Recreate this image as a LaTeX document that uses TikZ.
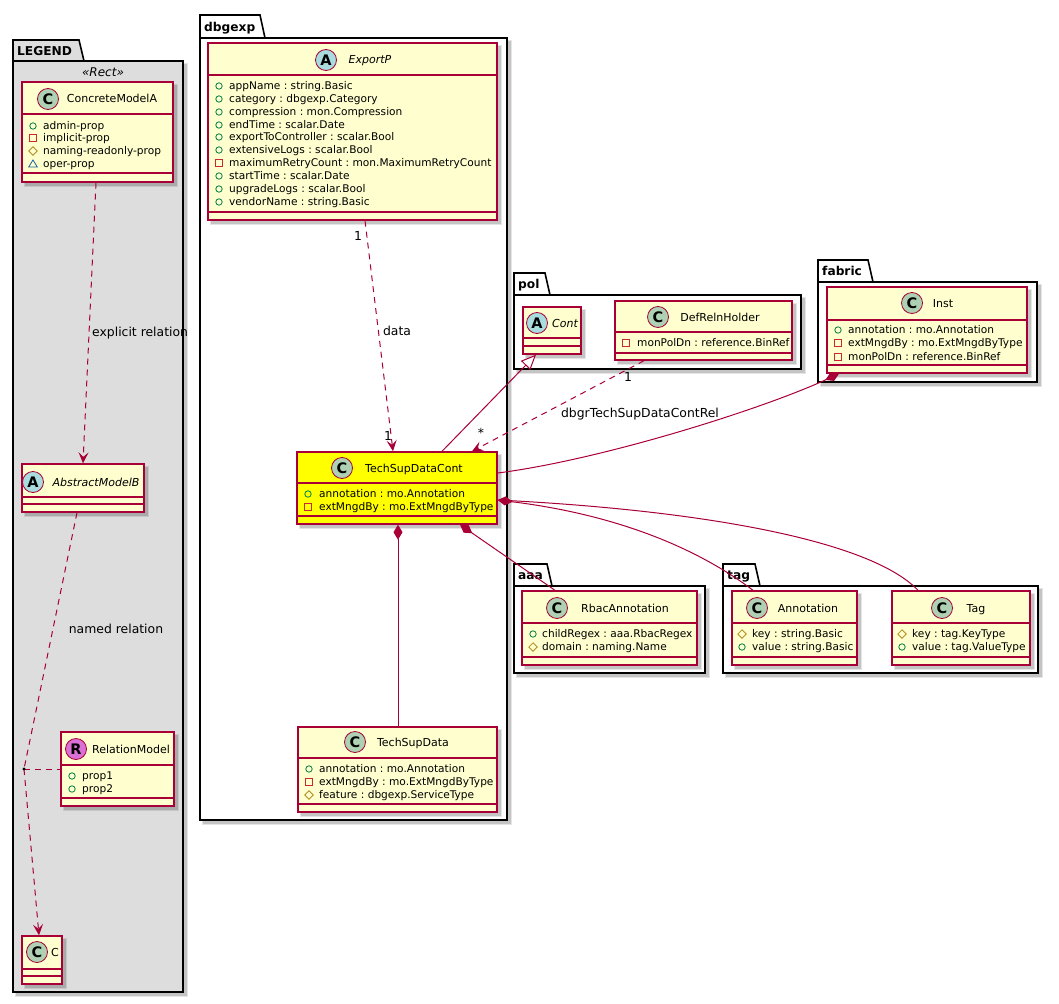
\documentclass[tikz,border=0pt]{standalone}
\usepackage{fontspec}
\setmainfont{DejaVu Sans}
\frenchspacing
\usetikzlibrary{arrows.meta,fit}

\definecolor{umlred}{HTML}{A80036}
\definecolor{clsfill}{HTML}{FEFECE}
\definecolor{yel}{HTML}{FFFF00}
\definecolor{cbadge}{HTML}{ADD1B2}
\definecolor{abadge}{HTML}{A9DCDF}
\definecolor{rbadge}{HTML}{DA70D6}
\definecolor{legendgray}{HTML}{DDDDDD}
\definecolor{pubc}{HTML}{038048}
\definecolor{pric}{HTML}{C82930}
\definecolor{proc}{HTML}{B38D22}
\definecolor{pkgc}{HTML}{1963A0}

\tikzset{
  txt/.style={inner sep=0pt, font=\fontsize{12.4}{15}\selectfont, text height=11pt, text depth=2pt},
  attrf/.style={anchor=west, font=\fontsize{10.6}{13}\selectfont, text height=9.8pt, text depth=2pt},
  namef/.style={font=\fontsize{11}{14}\selectfont, text height=10pt, text depth=2pt},
  namefi/.style={font=\fontsize{11}{14}\selectfont\itshape, text height=10pt, text depth=2pt},
  pkglab/.style={anchor=west, font=\fontsize{12.2}{15}\selectfont\bfseries, text height=10.9pt, text depth=2pt},
  ster/.style={font=\fontsize{12}{15}\selectfont\itshape, text height=10.8pt, text depth=2pt},
  badgest/.style={circle, draw=umlred, line width=0.8pt, minimum size=21pt, inner sep=0pt,
     font=\fontsize{14.5}{15}\selectfont\bfseries, text height=10.6pt, text depth=0pt},
  clsline/.style={draw=umlred, line width=1.4pt},
  pkgline/.style={draw=black, line width=1.6pt},
  conn/.style={draw=umlred, line width=1pt},
  dashedconn/.style={conn, dash pattern=on 6pt off 5pt},
  dep/.style={dashedconn, -{Stealth[length=11pt,width=10pt,inset=4.5pt]}},
  gen/.style={conn, -{Triangle[length=15pt,width=13pt,fill=white]}},
  comp/.style={conn, {Diamond[length=15pt,width=9pt]}-},
  compend/.style={conn, -{Diamond[length=15pt,width=9pt]}},
}

\newcount\tn
\newcommand\tx[3][]{\global\advance\tn by 1\relax\node[txt,#1] (t\the\tn) at (#2) {#3};}
\newcommand\shadowrect[4]{%
  \fill[black,opacity=0.10] (#1+2,#2+2) rectangle (#3+5,#4+5);
  \fill[black,opacity=0.14] (#1+3,#2+3) rectangle (#3+4,#4+4);}
\newcommand\umlclass[8]{%
  \shadowrect{#2}{#3}{#4}{#5}
  \node[clsline, fill=#8, inner sep=0pt, fit={(#2,#3) (#4,#5)}] (#1) {};
  \draw[clsline] (#2,#6) -- (#4,#6) (#2,#7) -- (#4,#7);}
\newcommand\badge[4]{\global\advance\tn by 1\relax\node[badgest, fill=#3] (t\the\tn) at (#1,#2) {#4};}
\newcommand\upkg[8]{%
  \shadowrect{#2}{#5}{#6}{#7}
  \draw[pkgline, fill=#8] (#2,#5) -- (#2,#3) -- (#4,#3) -- (#4+5,#5) -- cycle;
  \node[pkgline, fill=#8, inner sep=0pt, fit={(#2,#5) (#6,#7)}] (#1) {};}
\newcommand\icpub[2]{\draw[pubc, line width=0.8pt] (#1,#2) circle (3.2);}
\newcommand\icpri[2]{\draw[pric, line width=0.9pt] (#1-3.3,#2-3.3) rectangle (#1+3.3,#2+3.3);}
\newcommand\icpro[2]{\draw[proc, line width=0.8pt] (#1,#2-4.2) -- (#1+4.2,#2) -- (#1,#2+4.2) -- (#1-4.2,#2) -- cycle;}
\newcommand\icpkg[2]{\draw[pkgc, line width=0.8pt] (#1,#2-4) -- (#1+4.3,#2+3) -- (#1-4.3,#2+3) -- cycle;}
\newcommand\attr[5]{#3{#1}{#2}\tx[attrf]{#4,#2}{#5}}

\begin{document}
\begin{tikzpicture}[x=1pt,y=-1pt]
\fill[white] (0,0) rectangle (1059,1003);
\useasboundingbox (0,0) rectangle (1059,1003);

% ---------------- packages ----------------
\upkg{legend}{13}{40}{79}{61}{183}{992}{legendgray}
\tx[pkglab]{17,51}{LEGEND}
\tx[ster]{103,72}{«Rect»}

\upkg{dbgexp}{200}{15}{260}{38}{507}{820}{white}
\tx[pkglab]{204,27}{dbgexp}

\upkg{pol}{514}{273}{545}{295}{801}{369}{white}
\tx[pkglab]{518,284}{pol}

\upkg{fabric}{818}{260}{868}{282}{1037}{382}{white}
\tx[pkglab]{822,271}{fabric}

\upkg{aaa}{514}{564}{547}{586}{705}{673}{white}
\tx[pkglab]{518,575}{aaa}

\upkg{tagpkg}{723}{564}{755}{586}{1038}{673}{white}
\tx[pkglab]{727,575}{tag}

% ---------------- legend classes ----------------
\umlclass{cma}{22}{82}{173}{182}{114}{173}{clsfill}
\badge{48}{99}{cbadge}{C}
\tx[namef]{112,99}{ConcreteModelA}
\attr{33}{126}{\icpub}{43}{admin-prop}
\attr{33}{138}{\icpri}{43}{implicit-prop}
\attr{33}{151}{\icpro}{43}{naming-readonly-prop}
\attr{33}{164}{\icpkg}{43}{oper-prop}

\umlclass{amb}{22}{464}{144}{512}{497}{504}{clsfill}
\badge{33}{482}{abadge}{A}
\tx[namefi]{96,482}{AbstractModelB}

\umlclass{rm}{61}{732}{174}{806}{765}{798}{clsfill}
\badge{76}{749}{rbadge}{R}
\tx[namef]{131,749}{RelationModel}
\attr{72}{776}{\icpub}{82}{prop1}
\attr{72}{789}{\icpub}{82}{prop2}

\umlclass{cc}{22}{936}{62}{984}{969}{976}{clsfill}
\badge{37}{952}{cbadge}{C}
\tx[namef]{55,952}{C}

% ---------------- dbgexp ----------------
\umlclass{exportp}{208}{43}{497}{220}{75}{212}{clsfill}
\badge{326}{60}{abadge}{A}
\tx[namefi]{370,60}{ExportP}
\attr{219}{86}{\icpub}{229}{appName : string.Basic}
\attr{219}{99}{\icpub}{229}{category : dbgexp.Category}
\attr{219}{112}{\icpub}{229}{compression : mon.Compression}
\attr{219}{125}{\icpub}{229}{endTime : scalar.Date}
\attr{219}{137}{\icpub}{229}{exportToController : scalar.Bool}
\attr{219}{150}{\icpub}{229}{extensiveLogs : scalar.Bool}
\attr{219}{163}{\icpri}{229}{maximumRetryCount : mon.MaximumRetryCount}
\attr{219}{176}{\icpub}{229}{startTime : scalar.Date}
\attr{219}{189}{\icpub}{229}{upgradeLogs : scalar.Bool}
\attr{219}{202}{\icpub}{229}{vendorName : string.Basic}

\umlclass{tsdc}{297}{452}{497}{524}{483}{516}{yel}
\badge{342}{468}{cbadge}{C}
\tx[namef]{414,468}{TechSupDataCont}
\attr{308}{494}{\icpub}{319}{annotation : mo.Annotation}
\attr{308}{507}{\icpri}{319}{extMngdBy : mo.ExtMngdByType}

\umlclass{tsd}{298}{727}{497}{812}{758}{804}{clsfill}
\badge{355}{742}{cbadge}{C}
\tx[namef]{413,742}{TechSupData}
\attr{309}{769}{\icpub}{319}{annotation : mo.Annotation}
\attr{309}{782}{\icpri}{319}{extMngdBy : mo.ExtMngdByType}
\attr{309}{795}{\icpro}{319}{feature : dbgexp.ServiceType}

% ---------------- pol ----------------
\umlclass{cont}{523}{307}{581}{354}{338}{346}{clsfill}
\badge{537}{323}{abadge}{A}
\tx[namefi]{565,323}{Cont}

\umlclass{drh}{615}{301}{792}{360}{332}{353}{clsfill}
\badge{658}{317}{cbadge}{C}
\tx[namef]{720,317}{DefRelnHolder}
\attr{626}{343}{\icpri}{637}{monPolDn : reference.BinRef}

% ---------------- fabric ----------------
\umlclass{inst}{827}{287}{1027}{373}{320}{365}{clsfill}
\badge{912}{303}{cbadge}{C}
\tx[namef]{943,303}{Inst}
\attr{838}{330}{\icpub}{848}{annotation : mo.Annotation}
\attr{838}{343}{\icpri}{848}{extMngdBy : mo.ExtMngdByType}
\attr{838}{357}{\icpri}{848}{monPolDn : reference.BinRef}

% ---------------- aaa ----------------
\umlclass{rbac}{522}{591}{697}{665}{623}{657}{clsfill}
\badge{557}{608}{cbadge}{C}
\tx[namef]{625,608}{RbacAnnotation}
\attr{533}{634}{\icpub}{542}{childRegex : aaa.RbacRegex}
\attr{533}{647}{\icpro}{542}{domain : naming.Name}

% ---------------- tag ----------------
\umlclass{annot}{732}{591}{857}{665}{623}{657}{clsfill}
\badge{757}{608}{cbadge}{C}
\tx[namef]{808,608}{Annotation}
\attr{742}{634}{\icpro}{752}{key : string.Basic}
\attr{742}{647}{\icpub}{752}{value : string.Basic}

\umlclass{tagc}{892}{591}{1030}{665}{623}{657}{clsfill}
\badge{942}{608}{cbadge}{C}
\tx[namef]{976,608}{Tag}
\attr{902}{634}{\icpro}{912}{key : tag.KeyType}
\attr{902}{647}{\icpub}{912}{value : tag.ValueType}

% ---------------- connectors ----------------
\draw[dep] (96,0 |- cma.south) -- (83,0 |- amb.north);
\tx[anchor=west]{92,332}{explicit relation}

\coordinate (rdot) at (24,769);
\draw[dashedconn] (77,0 |- amb.south) -- (rdot);
\draw[dep] (rdot) -- (39,0 |- cc.north);
\draw[dashedconn] (rdot) -- (rm.west |- rdot);
\fill (rdot) circle (1.7);
\tx{116,629}{named relation}

\draw[dep] (365,0 |- exportp.south) -- (393,0 |- tsdc.north);
\tx{358,236}{1}
\tx{397,331}{data}
\tx{388,436}{1}

\draw[gen] (442,0 |- tsdc.north) -- (536,0 |- cont.south);

\draw[dep] (644,0 |- drh.south) -- (472,0 |- tsdc.north);
\tx{628,377}{1}
\tx{481,433}{*}
\tx{640,413}{dbgrTechSupDataContRel}

\draw[compend] (tsdc.east |- 0,473) .. controls (600,460) and (760,410) .. (839,0 |- inst.south);

\draw[comp] (tsdc.east |- 0,500) .. controls (620,515) and (700,550) .. (753,0 |- annot.north);
\draw[conn] (tsdc.east |- 0,500) .. controls (700,510) and (870,540) .. (918,0 |- tagc.north);

\draw[comp] (460,0 |- tsdc.south) -- (555,0 |- rbac.north);
\draw[comp] (398,0 |- tsdc.south) -- (398,0 |- tsd.north);
\end{tikzpicture}
\end{document}
